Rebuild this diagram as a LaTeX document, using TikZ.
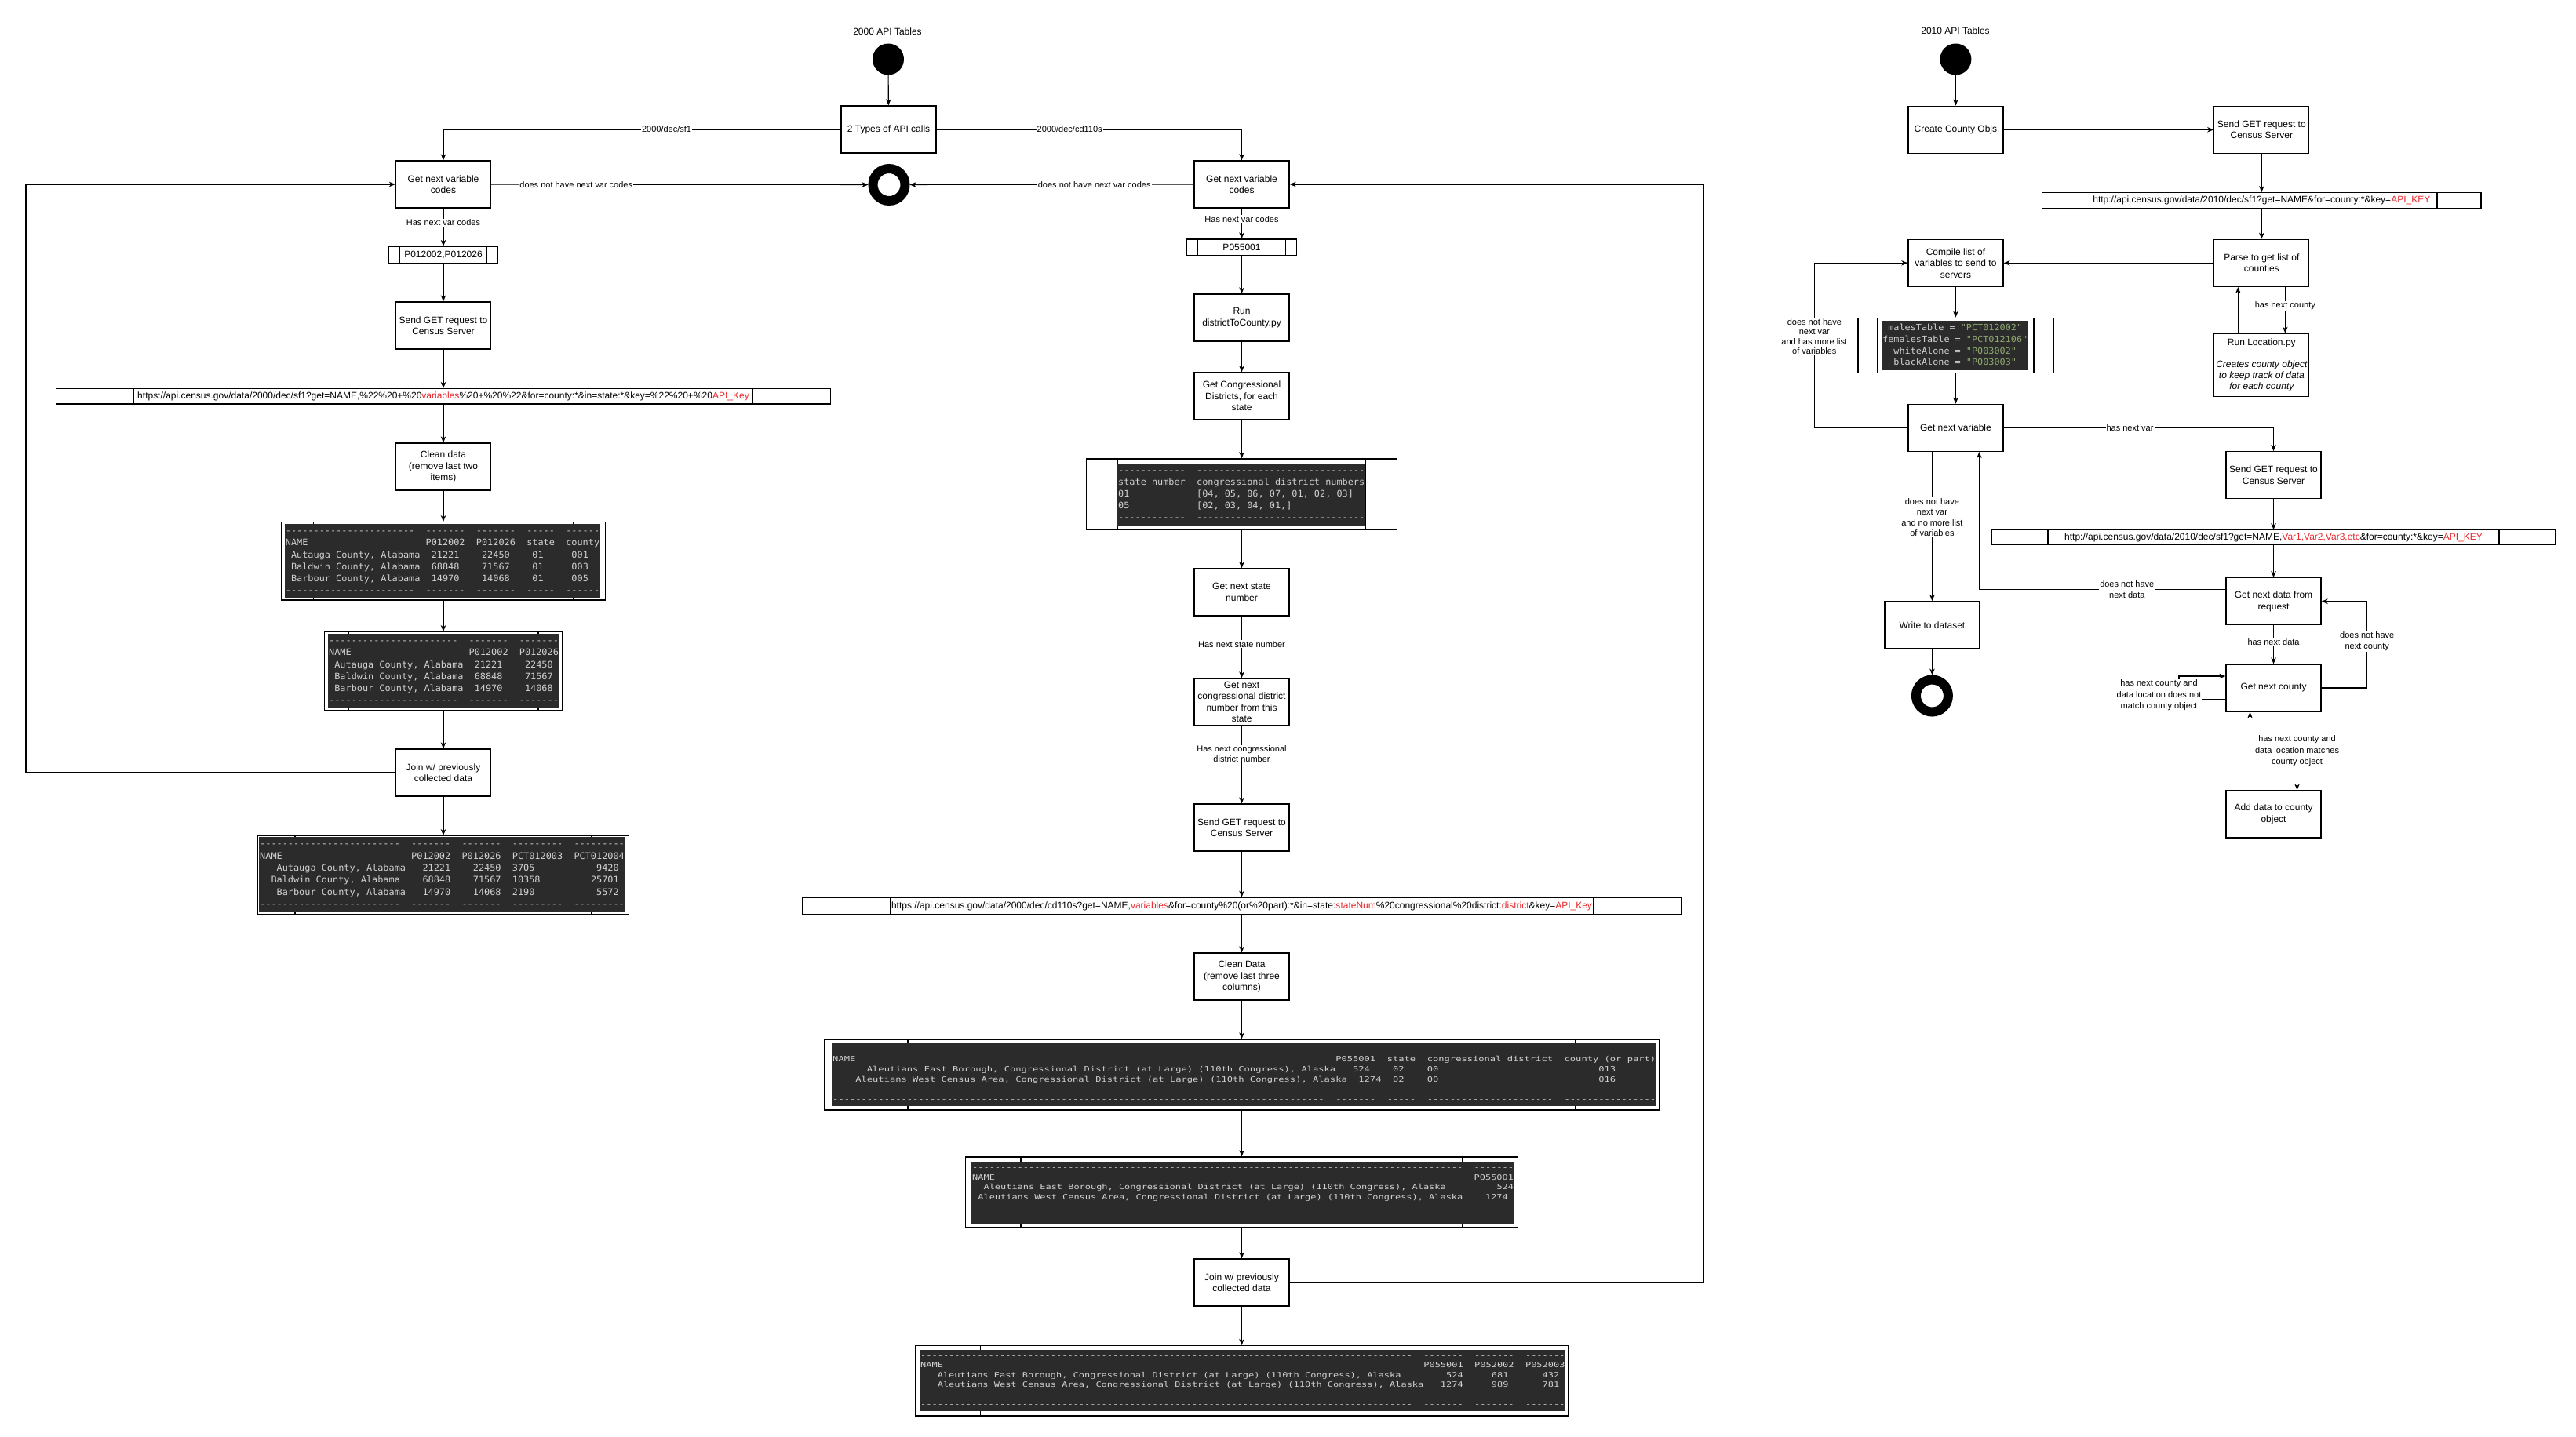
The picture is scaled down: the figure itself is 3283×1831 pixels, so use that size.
\documentclass[tikz,border=0pt]{standalone}
\usepackage{fontspec}
\setmainfont{Liberation Sans}
\newfontfamily\codefont{DejaVu Sans Mono}
\usepackage{graphicx}
\usetikzlibrary{arrows.meta,calc}

\definecolor{codebg}{HTML}{2B2B2B}
\definecolor{codefg}{HTML}{D0D0D0}
\definecolor{codestr}{HTML}{8FA870}
\definecolor{urlred}{HTML}{E8262A}

% red placeholder parts of the request URLs
\newcommand\hl[1]{\textcolor{urlred}{#1}}
% runs of dashes and blanks for the console tables
\ExplSyntaxOn
\NewDocumentCommand\dsh{m}{\prg_replicate:nn{#1}{-\kern0pt}}
\ExplSyntaxOff
\newcommand\blk[1]{\hspace*{#1\dimexpr 0.602em\relax}}

% dark console screenshot: name, x1, y1, x2, y2, column spec, rows
\newcommand\codeblock[7]{%
  \fill[codebg] (#2,#3) rectangle (#4,#5);
  \node[codetxt] (#1) at (#2+1,#3+2)
    {\resizebox*{\dimexpr #4pt-#2pt-2pt\relax}{\dimexpr #5pt-#3pt-4pt\relax}{\begin{tabular}{@{}#6@{}}#7\end{tabular}}};}

\tikzset{
  flowbox/.style={draw, line width=1.3pt, minimum width=121pt, minimum height=60pt,
    inner sep=1pt, align=center, font=\fontsize{12}{14.5}\selectfont},
  proc/.style={draw, line width=1.3pt, inner sep=0pt, font=\fontsize{12}{14}\selectfont,
    path picture={
      \draw[line width=1.3pt]
        ($(path picture bounding box.north west)!0.1!(path picture bounding box.north east)$) --
        ($(path picture bounding box.south west)!0.1!(path picture bounding box.south east)$)
        ($(path picture bounding box.north west)!0.9!(path picture bounding box.north east)$) --
        ($(path picture bounding box.south west)!0.9!(path picture bounding box.south east)$);}},
  edgelbl/.style={fill=white, inner sep=1pt, align=center, font=\fontsize{11}{14}\selectfont},
  smalllbl/.style={edgelbl, font=\fontsize{11}{12.5}\selectfont},
  flow/.style={line width=1.1pt, -{Stealth[length=8pt,width=6.5pt,inset=2.5pt]}},
  startdot/.style={circle, fill=black, minimum size=40pt, inner sep=0pt},
  enddot/.style={circle, draw=black, line width=12pt, minimum size=41pt, inner sep=0pt},
  codetxt/.style={inner sep=0pt, anchor=north west, text=codefg,
    font=\codefont\fontsize{12}{16}\selectfont},
  heading/.style={font=\fontsize{12}{14}\selectfont},
}

\begin{document}
\begin{tikzpicture}[x=1pt, y=-1pt]
\fill[white] (0,0) rectangle (3283,1831);
\useasboundingbox (0,0) rectangle (3283,1831);

% ---------------- 2000 tables ----------------
\node[heading] (h2000) at (1131,40) {2000 API Tables};
\node[startdot] (start2000) at (1132,75.5) {};
\node[flowbox] (types) at (1132.5,165) {2 Types of API calls};
\node[enddot] (end2000) at (1133,235.5) {};

% sf1 branch
\node[flowbox] (lgnv) at (565,235) {Get next variable\\codes};
\node[proc, minimum width=139pt, minimum height=21pt] (lvar) at (565,325) {P012002,P012026};
\node[flowbox] (lsend) at (565,415) {Send GET request to\\Census Server};
\node[proc, minimum width=987pt, minimum height=19.5pt] (lurl) at (565,505.3)
  {https://api.census.gov/data/2000/dec/sf1?get=NAME,\%22\%20+\%20\hl{variables}\%20+\%20\%22\&for=county:*\&in=state:*\&key=\%22\%20+\%20\hl{API\_Key}};
\node[flowbox] (lclean) at (565,595) {Clean data\\(remove last two\\items)};
\node[proc, minimum width=413pt, minimum height=99.3pt] (t1) at (565,715.3) {};
\node[proc, minimum width=302.7pt, minimum height=100.3pt] (t2) at (565,855.8) {};
\node[flowbox] (ljoin) at (565,985) {Join w/ previously\\collected data};
\node[proc, minimum width=472.7pt, minimum height=100.3pt] (t3) at (565,1115.8) {};

% cd110s branch
\node[flowbox] (mgnv) at (1582.5,235) {Get next variable\\codes};
\node[proc, minimum width=140pt, minimum height=21pt] (mvar) at (1582.5,315.5) {P055001};
\node[flowbox] (mrun) at (1582.5,405) {Run\\districtToCounty.py};
\node[flowbox] (mcong) at (1582.5,505) {Get Congressional\\Districts, for each\\state};
\node[proc, minimum width=395.6pt, minimum height=90.7pt] (mtab) at (1582.5,630.3) {};
\node[flowbox] (mstate) at (1582.5,755) {Get next state\\number};
\node[flowbox] (mcnum) at (1582.5,895) {Get next\\congressional district\\number from this\\state};
\node[flowbox] (msend) at (1582.5,1055) {Send GET request to\\Census Server};
\node[proc, minimum width=1119.6pt, minimum height=21.4pt] (murl) at (1582.5,1155)
  {https://api.census.gov/data/2000/dec/cd110s?get=NAME,\hl{variables}\&for=county\%20(or\%20part):*\&in=state:\hl{stateNum}\%20congressional\%20district:\hl{district}\&key=\hl{API\_Key}};
\node[flowbox] (mclean) at (1582.5,1245) {Clean Data\\(remove last three\\columns)};
\node[proc, minimum width=1064pt, minimum height=90pt] (mt1) at (1582.5,1370) {};
\node[proc, minimum width=703.8pt, minimum height=90pt] (mt2) at (1582.5,1520) {};
\node[flowbox] (mjoin) at (1582.5,1635) {Join w/ previously\\collected data};
\node[proc, minimum width=832.7pt, minimum height=89.3pt] (mt3) at (1582.5,1760.3) {};

% console output screenshots
\codeblock{t1txt}{362.7}{668}{765}{762.7}{l}{%
\dsh{23}\blk{2}\dsh{7}\blk{2}\dsh{7}\blk{2}\dsh{5}\blk{2}\dsh{6}\\
NAME\blk{21}P012002\blk{2}P012026\blk{2}state\blk{2}county\\
\blk{1}Autauga County, Alabama\blk{2}21221\blk{4}22450\blk{4}01\blk{5}001\\
\blk{1}Baldwin County, Alabama\blk{2}68848\blk{4}71567\blk{4}01\blk{5}003\\
\blk{1}Barbour County, Alabama\blk{2}14970\blk{4}14068\blk{4}01\blk{5}005\\
\dsh{23}\blk{2}\dsh{7}\blk{2}\dsh{7}\blk{2}\dsh{5}\blk{2}\dsh{6}}

\codeblock{t2txt}{418}{808}{712.7}{903}{l}{%
\dsh{23}\blk{2}\dsh{7}\blk{2}\dsh{7}\\
NAME\blk{21}P012002\blk{2}P012026\\
\blk{1}Autauga County, Alabama\blk{2}21221\blk{4}22450\\
\blk{1}Baldwin County, Alabama\blk{2}68848\blk{4}71567\\
\blk{1}Barbour County, Alabama\blk{2}14970\blk{4}14068\\
\dsh{23}\blk{2}\dsh{7}\blk{2}\dsh{7}}

\codeblock{t3txt}{330}{1067}{796.7}{1163}{l}{%
\dsh{25}\blk{2}\dsh{7}\blk{2}\dsh{7}\blk{2}\dsh{9}\blk{2}\dsh{9}\\
NAME\blk{23}P012002\blk{2}P012026\blk{2}PCT012003\blk{2}PCT012004\\
\blk{3}Autauga County, Alabama\blk{3}21221\blk{4}22450\blk{2}3705\blk{11}9420\\
\blk{2}Baldwin County, Alabama\blk{4}68848\blk{4}71567\blk{2}10358\blk{9}25701\\
\blk{3}Barbour County, Alabama\blk{3}14970\blk{4}14068\blk{2}2190\blk{11}5572\\
\dsh{25}\blk{2}\dsh{7}\blk{2}\dsh{7}\blk{2}\dsh{9}\blk{2}\dsh{9}}

\codeblock{mtabtxt}{1424}{590.7}{1740}{670}{l}{%
\dsh{12}\blk{2}\dsh{30}\\
state number\blk{2}congressional district numbers\\
01\blk{12}[04, 05, 06, 07, 01, 02, 03]\\
05\blk{12}[02, 03, 04, 01,]\\
\dsh{12}\blk{2}\dsh{30}}

\codeblock{mt1txt}{1060}{1330}{2111}{1410}{l}{%
\dsh{86}\blk{2}\dsh{7}\blk{2}\dsh{5}\blk{2}\dsh{22}\blk{2}\dsh{16}\\
NAME\blk{84}P055001\blk{2}state\blk{2}congressional district\blk{2}county (or part)\\
\blk{6}Aleutians East Borough, Congressional District (at Large) (110th Congress), Alaska\blk{3}524\blk{4}02\blk{4}00\blk{28}013\\
\blk{4}Aleutians West Census Area, Congressional District (at Large) (110th Congress), Alaska\blk{2}1274\blk{2}02\blk{4}00\blk{28}016\\
\\
\dsh{86}\blk{2}\dsh{7}\blk{2}\dsh{5}\blk{2}\dsh{22}\blk{2}\dsh{16}}

\codeblock{mt2txt}{1238}{1480.7}{1929.8}{1560}{l}{%
\dsh{87}\blk{2}\dsh{7}\\
NAME\blk{85}P055001\\
\blk{2}Aleutians East Borough, Congressional District (at Large) (110th Congress), Alaska\blk{9}524\\
\blk{1}Aleutians West Census Area, Congressional District (at Large) (110th Congress), Alaska\blk{4}1274\\
\\
\dsh{87}\blk{2}\dsh{7}}

\codeblock{mt3txt}{1172}{1720.7}{1995.3}{1799}{l}{%
\dsh{87}\blk{2}\dsh{7}\blk{2}\dsh{7}\blk{2}\dsh{7}\\
NAME\blk{85}P055001\blk{2}P052002\blk{2}P052003\\
\blk{3}Aleutians East Borough, Congressional District (at Large) (110th Congress), Alaska\blk{8}524\blk{5}681\blk{6}432\\
\blk{3}Aleutians West Census Area, Congressional District (at Large) (110th Congress), Alaska\blk{3}1274\blk{5}989\blk{6}781\\
\\
\dsh{87}\blk{2}\dsh{7}\blk{2}\dsh{7}\blk{2}\dsh{7}}

% 2000 connectors
\draw[flow] (start2000) -- (types);
\draw[flow] (types.west) -| node[edgelbl, pos=0.219] {2000/dec/sf1} (lgnv.north);
\draw[flow] (types.east) -| node[edgelbl, pos=0.218] {2000/dec/cd110s} (mgnv.north);
\draw[flow] (lgnv) -- node[edgelbl, pos=0.225] {does not have next var codes} (end2000);
\draw[flow] (mgnv) -- node[edgelbl, pos=0.35] {does not have next var codes} (end2000);

\draw[flow] (lgnv) -- node[edgelbl, pos=0.38] {Has next var codes} (lvar);
\draw[flow] (lvar) -- (lsend);
\draw[flow] (lsend) -- (lurl);
\draw[flow] (lurl) -- (lclean);
\draw[flow] (lclean) -- (t1);
\draw[flow] (t1) -- (t2);
\draw[flow] (t2) -- (ljoin);
\draw[flow] (ljoin) -- (t3);
\coordinate (lret) at (33,985);
\draw[flow] (ljoin.west) -- (lret) |- (lgnv.west);

\draw[flow] (mgnv) -- node[edgelbl, pos=0.35] {Has next var codes} (mvar);
\draw[flow] (mvar) -- (mrun);
\draw[flow] (mrun) -- (mcong);
\draw[flow] (mcong) -- (mtab);
\draw[flow] (mtab) -- (mstate);
\draw[flow] (mstate) -- node[edgelbl, pos=0.45] {Has next state number} (mcnum);
\draw[flow] (mcnum) -- node[smalllbl, pos=0.36] {Has next congressional\\district number} (msend);
\draw[flow] (msend) -- (murl);
\draw[flow] (murl) -- (mclean);
\draw[flow] (mclean) -- (mt1);
\draw[flow] (mt1) -- (mt2);
\draw[flow] (mt2) -- (mjoin);
\draw[flow] (mjoin) -- (mt3);
\coordinate (mret) at (2171,1635);
\draw[flow] (mjoin.east) -- (mret) |- (mgnv.east);

% ---------------- 2010 tables ----------------
\node[heading] (h2010) at (2492,39.3) {2010 API Tables};
\node[startdot] (rstart) at (2492.4,75.5) {};
\node[flowbox] (rcreate) at (2492.4,165.3) {Create County Objs};
\node[flowbox] (rsend1) at (2882.3,165.3) {Send GET request to\\Census Server};
\node[proc, minimum width=559.5pt, minimum height=19.6pt] (rurl1) at (2882.3,255.5)
  {http://api.census.gov/data/2010/dec/sf1?get=NAME\&for=county:*\&key=\hl{API\_KEY}};
\node[flowbox] (rparse) at (2882.3,335.3) {Parse to get list of\\counties};
\node[flowbox] (rcompile) at (2492.4,335.3) {Compile list of\\variables to send to\\servers};
\node[proc, minimum width=249pt, minimum height=70pt] (rvars) at (2492.4,440.3) {};
\node[flowbox, minimum height=80pt, font=\fontsize{12}{14}\selectfont] (rloc) at (2882.3,465.3)
  {Run Location.py\\[14pt]\itshape Creates county object\\\itshape to keep track of data\\\itshape for each county};
\node[flowbox] (rgnv) at (2492.4,545.4) {Get next variable};
\node[flowbox] (rsend2) at (2897.5,605.8) {Send GET request to\\Census Server};
\node[proc, minimum width=719pt, minimum height=18.5pt] (rurl2) at (2897.5,685)
  {http://api.census.gov/data/2010/dec/sf1?get=NAME,\hl{Var1,Var2,Var3,etc}\&for=county:*\&key=\hl{API\_KEY}};
\node[flowbox] (rgnd) at (2897.5,766.7) {Get next data from\\request};
\node[flowbox] (rgnc) at (2897.5,877) {Get next county};
\node[flowbox] (radd) at (2897.5,1038) {Add data to county\\object};
\node[flowbox] (rwrite) at (2462.4,796.7) {Write to dataset};
\node[enddot] (rend) at (2462.4,887) {};

\codeblock{rvarstxt}{2398}{409}{2585}{472}{c}{%
malesTable = \textcolor{codestr}{"PCT012002"}\\
femalesTable = \textcolor{codestr}{"PCT012106"}\\
whiteAlone = \textcolor{codestr}{"P003002"}\\
blackAlone = \textcolor{codestr}{"P003003"}}

% 2010 connectors
\draw[flow] (rstart) -- (rcreate);
\draw[flow] (rcreate) -- (rsend1);
\draw[flow] (rsend1) -- (rurl1);
\draw[flow] (rurl1) -- (rparse);
\draw[flow] (rparse) -- (rcompile);
\draw[flow] ([xshift=30pt]rparse.south) -- node[edgelbl, pos=0.41] {has next county} ([xshift=30pt]rloc.north);
\draw[flow] ([xshift=-30pt]rloc.north) -- ([xshift=-30pt]rparse.south);
\draw[flow] (rcompile) -- (rvars);
\draw[flow] (rvars) -- (rgnv);
\coordinate (rvloop) at (2312.3,545.4);
\draw[flow] (rgnv.west) -- (rvloop) |- node[smalllbl, pos=0.277] {does not have\\next var\\and has more list\\of variables} (rcompile.west);
\draw[flow] (rgnv.east) -| node[edgelbl, pos=0.234] {has next var} (rsend2.north);
\draw[flow] (rsend2) -- (rurl2);
\draw[flow] (rurl2) -- (rgnd);
\draw[flow] ([yshift=15pt]rgnd.west) -| node[edgelbl, pos=0.2] {does not have\\next data} ([xshift=30pt]rgnv.south);
\draw[flow] ([xshift=-30pt]rgnv.south) -- node[edgelbl, font=\fontsize{11}{13.5}\selectfont, pos=0.44] {does not have\\next var\\and no more list\\of variables} (rwrite.north);
\draw[flow] (rwrite) -- (rend);
\draw[flow] (rgnd) -- node[edgelbl, pos=0.43] {has next data} (rgnc);
\coordinate (rcloop) at (3016.7,877);
\draw[flow] (rgnc.east) -- (rcloop) |- node[edgelbl, pos=0.27] {does not have\\next county} (rgnd.east);
\coordinate (rsa) at (2777,892);
\coordinate (rsb) at (2777,862);
\draw[flow] ([yshift=-15pt]rgnc.west) -- (rsa) -- (rsb) -- ([yshift=15pt]rgnc.west);
\node[edgelbl, font=\fontsize{11}{14.5}\selectfont] (selflbl) at (2751.5,886.5) {has next county and\\data location does not\\match county object};
\draw[flow] ([xshift=30pt]rgnc.south) -- node[edgelbl, font=\fontsize{11}{14.5}\selectfont, pos=0.5] {has next county and\\data location matches\\county object} ([xshift=30pt]radd.north);
\draw[flow] ([xshift=-30pt]radd.north) -- ([xshift=-30pt]rgnc.south);
\end{tikzpicture}
\end{document}
